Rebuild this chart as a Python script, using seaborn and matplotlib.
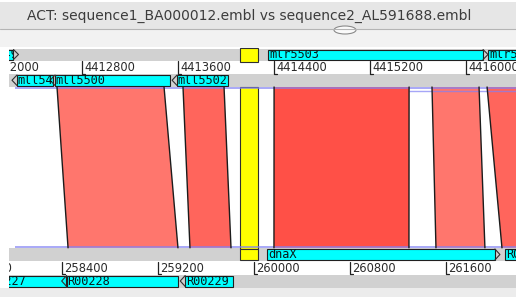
import numpy as np
import pandas as pd
import matplotlib.pyplot as plt
from matplotlib.patches import Rectangle, Ellipse
import seaborn as sns

sns.set_theme(style="white")
plt.rcParams['font.family'] = ['DejaVu Sans']

title = "ACT: sequence1_BA000012.embl vs sequence2_AL591688.embl"

# sequence 1 (BA000012), top panel
seq1_fwd_names = ["mlr5497", "mlr5503", "mlr5505"]
seq1_fwd_start = [4411900, 4414350, 4416183]
seq1_fwd_end = [4412268, 4416181, 4417000]
seq1_rev_names = ["mll5499", "mll5500", "mll5502"]
seq1_rev_start = [4412214, 4412531, 4413548]
seq1_rev_end = [4412556, 4413531, 4414014]
seq1_ticks = [4412000, 4412800, 4413600, 4414400, 4415200, 4416000]

# sequence 2 (AL591688), bottom panel
seq2_fwd_names = ["dnaX", "R00231"]
seq2_fwd_start = [260113, 262098]
seq2_fwd_end = [262052, 262900]
seq2_rev_names = ["R00227", "R00228", "R00229"]
seq2_rev_start = [257699, 258400, 259388]
seq2_rev_end = [258436, 259369, 259826]
seq2_ticks = [257600, 258400, 259200, 260000, 260800, 261600]

# comparison hits: seq1 range, seq2 range, % identity
hit_s1_start = [4412589, 4413639, 4414398, 4415714, 4416173]
hit_s1_end = [4413481, 4413981, 4415523, 4416106, 4416700]
hit_s2_start = [258453, 259469, 260169, 261519, 262069]
hit_s2_end = [259369, 259811, 261294, 261927, 262700]
hit_identity = [78, 84, 91, 78, 84]

# selected hit (yellow)
sel_s1 = [4414114, 4414268]
sel_s2 = [259886, 260040]

hits = pd.DataFrame({"s1a": hit_s1_start, "s1b": hit_s1_end,
                     "s2a": hit_s2_start, "s2b": hit_s2_end,
                     "ident": hit_identity})

# view settings
px = 1 / 0.12             # bases per screen pixel
shift2 = 4154228          # where seq2 sits against seq1 in the view
view0 = 4412189
view1 = view0 + 507 * px

GREY = "#d1d1d1"
CYAN = "#00ffff"


def hit_colour(ident):
    g = 118 - 2.9 * (ident - 78)
    return (1.0, g / 255, (g - 9) / 255)


fig = plt.figure(figsize=(5.16, 2.97), dpi=100)

# window chrome
bg = fig.add_axes([0, 0, 1, 1])
bg.set_xlim(0, 516)
bg.set_ylim(297, 0)
bg.axis("off")
bg.add_patch(Rectangle((0, 2), 516, 27, color="#e6e6e6", lw=0))
bg.add_patch(Rectangle((0, 29), 516, 18, color="#f2f2f2", lw=0))
bg.axhline(29, color="#b4b4b4", lw=0.8)
bg.add_patch(Ellipse((345, 30), 22, 8, facecolor="#fafafa", edgecolor="#8a8a8a", lw=0.8))
bg.text(249, 16, title, ha="center", va="center", fontsize=10, color="#3c3c3c")
bg.add_patch(Rectangle((0, 287.5), 516, 10, color="#ececec", lw=0))

ax = fig.add_axes([9 / 516, 0, 507 / 516, 1])
ax.set_xlim(view0, view1)
ax.set_ylim(297, 0)
ax.axis("off")
ax.patch.set_alpha(0)

rows = {"s1f": (48.5, 60.5), "s1r": (74, 86.5), "s2f": (248, 261), "s2r": (274.5, 287.5)}
for y0, y1 in rows.values():
    ax.add_patch(Rectangle((view0, y0), view1 - view0, y1 - y0, color=GREY, lw=0))


def draw_feature(start, end, row, name, strand):
    y0, y1 = rows[row]
    y0, y1 = y0 + 1, y1 - 1
    mid = (y0 + y1) / 2
    if strand > 0:
        a, b = start, end - 5 * px
        lx = start + 1 * px
    else:
        a, b = start + 5 * px, end
        lx = start + 5.5 * px
    box = Rectangle((a, y0), b - a, y1 - y0, facecolor=CYAN, edgecolor="#202020", lw=0.8)
    ax.add_patch(box)
    if strand > 0:
        ax.plot([b, end, b], [y0, mid, y1], color="#303030", lw=0.8)
    else:
        ax.plot([a, start, a], [y0, mid, y1], color="#303030", lw=0.8)
    # label is cut at the box and at the view edge
    ca, cb = max(a, view0), min(b, view1)
    clip = Rectangle((ca, y0), cb - ca, y1 - y0, transform=ax.transData)
    t = ax.text(lx, mid + 0.5, name, ha="left", va="center", fontsize=8.6,
                family="DejaVu Sans Mono", color="#0a1a1a", clip_on=True)
    t.set_clip_path(clip)


for s, e, n in zip(seq1_fwd_start, seq1_fwd_end, seq1_fwd_names):
    draw_feature(s, e, "s1f", n, 1)
for s, e, n in zip(seq1_rev_start, seq1_rev_end, seq1_rev_names):
    draw_feature(s, e, "s1r", n, -1)
for s, e, n in zip(seq2_fwd_start, seq2_fwd_end, seq2_fwd_names):
    draw_feature(s + shift2, e + shift2, "s2f", n, 1)
for s, e, n in zip(seq2_rev_start, seq2_rev_end, seq2_rev_names):
    draw_feature(s + shift2, e + shift2, "s2r", n, -1)


def draw_ruler(ticks, offset, y0, y1):
    for tk in ticks:
        x = tk + offset
        ax.plot([x, x, x + 3 * px], [y0, y1, y1], color="#222222", lw=0.9, clip_on=True)
        ax.text(x + 2 * px, (y0 + y1) / 2 + 0.3, str(tk), ha="left", va="center",
                fontsize=8.3, color="#2a2a2a", clip_on=True)


draw_ruler(seq1_ticks, 0, 61, 73.5)
draw_ruler(seq2_ticks, shift2, 262, 274)

# faint hit lines along the panel edges
ax.hlines([88, 246.5], view0 + 6 * px, view1, color="#8080f4", lw=1.2, alpha=0.8)
ax.hlines([91], view0 + 400 * px, view1, color="#8080f4", lw=1.0, alpha=0.7)

top, bot = 87, 247.8
for _, h in hits.iterrows():
    xs = [h.s1a, h.s1b, h.s2b + shift2, h.s2a + shift2]
    ax.fill(xs, [top, top, bot, bot], color=hit_colour(h.ident), lw=0)
    ax.plot([h.s1a, h.s2a + shift2], [top, bot], color="#1c1c1c", lw=1.0)
    ax.plot([h.s1b, h.s2b + shift2], [top, bot], color="#1c1c1c", lw=1.0)

# selected hit
ax.fill([sel_s1[0], sel_s1[1], sel_s2[1] + shift2, sel_s2[0] + shift2],
        [86.5, 86.5, 249, 249], facecolor="#ffff00", edgecolor="#303030", lw=0.8)
ax.add_patch(Rectangle((sel_s1[0], 47.8), sel_s1[1] - sel_s1[0], 13.7,
                       facecolor="#ffff00", edgecolor="#303030", lw=0.8))
ax.add_patch(Rectangle((sel_s2[0] + shift2, 249), sel_s2[1] - sel_s2[0], 11,
                       facecolor="#ffff00", edgecolor="#303030", lw=0.8))

fig.savefig("out.png", dpi=100)
